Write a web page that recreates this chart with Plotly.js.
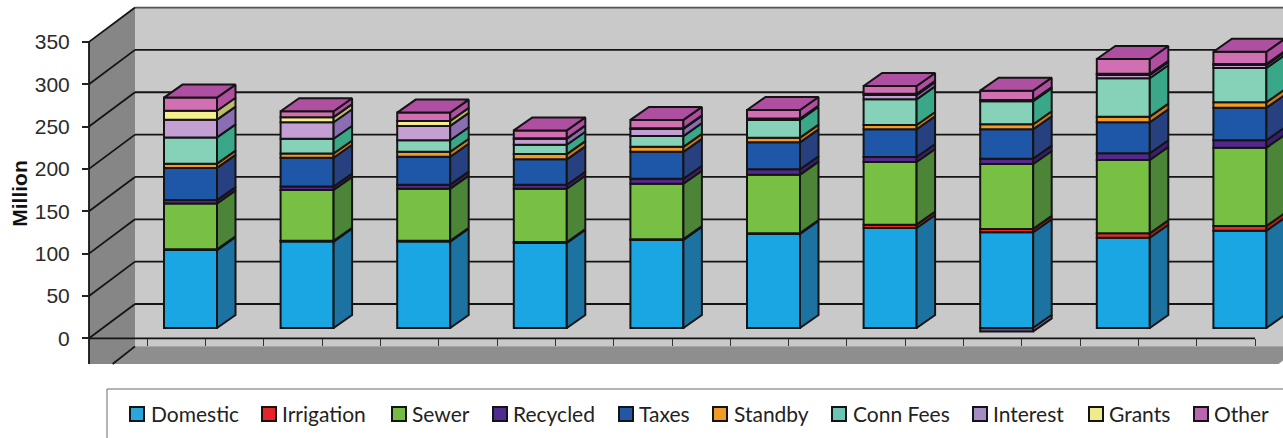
<!DOCTYPE html>
<html>
<head>
<meta charset="utf-8">
<script src="https://cdn.plot.ly/plotly-3.0.1.min.js"></script>
<style>html,body{margin:0;padding:0;background:#fff}#chart{width:1283px;height:438px}</style>
</head>
<body>
<div id="chart"></div>
<script>
// Revenue by source, stacked per year (millions)
const domestic  = [92, 102, 102, 100.4, 103.9, 111, 118, 113, 106.6, 114.9];
const irrigation= [1, 1, 1, 1, 1, 1, 4, 4, 5.2, 5.5];
const sewer     = [54, 60, 61.5, 63, 65.4, 69, 74, 76.6, 86.5, 92.5];
const recycled  = [4, 4, 4.7, 4.7, 5.9, 6.4, 5.9, 6.3, 8, 8.7];
const taxes     = [38, 34, 33, 30, 31.8, 31.8, 32.7, 34.7, 36.6, 38.4];
const standby   = [5, 5, 5.9, 6.2, 5.9, 5.5, 5.1, 5.9, 6.6, 6.5];
const connFees  = [31, 17.5, 13.5, 11, 12.7, 20.9, 30.3, 27.2, 45.3, 40.5];
const interest  = [21, 19.4, 17, 7.1, 8.3, 0.8, 5, -4, 3.9, 3.5];
const grants    = [10.5, 6, 5.9, 0.6, 0.8, 0.8, 1.6, 1.5, 1.5, 1.2];
const other     = [15.5, 7, 9.8, 9.3, 10, 10.2, 9.1, 11, 17.4, 14.5];

const seriesNames  = ['Domestic','Irrigation','Sewer','Recycled','Taxes','Standby','Conn Fees','Interest','Grants','Other'];
const seriesValues = [domestic, irrigation, sewer, recycled, taxes, standby, connFees, interest, grants, other];
const frontColors  = ['#1AA5E3','#EE2A24','#77C043','#55288F','#1E56A8','#F59B21','#86D2B8','#C49FD4','#F4EE8E','#D070B2'];
const sideColors   = ['#1C72A0','#B5201E','#4C8438','#3B1E70','#27407F','#C87A1C','#3AA888','#8B6DB2','#BDBB6E','#B04FA0'];
const legendColors = ['#2AA6DC','#E8232A','#76BC43','#4F2C91','#2456A6','#F09A2A','#6CC4B4','#A48CC4','#EDEB8A','#B866AE'];
const negativeColor = '#6A4A9E';
const topColor = '#AE4FA2';
const yTicks = [0, 50, 100, 150, 200, 250, 300, 350];
const xTicks = [0.5,1,1.5,2,2.5,3,3.5,4,4.5,5,5.5,6,6.5,7,7.5,8,8.5,9,9.5,10];

// Left edge of each legend swatch and of each legend label, in page pixels
const legendSwatchX = [130, 262, 392, 493, 619, 713, 832, 973, 1089, 1194];
const legendTextX   = [150, 281, 411, 512, 638, 733, 852, 992, 1108, 1213];

// Oblique projection constants, in axis units
const W = 1283, H = 438, PLOT_H = 387;
const PX_X = 116.6, PX_Y = 0.847;         // pixels per category / per million
const LEFT = 89, ZERO = 338.3;            // front-left corner of the axes
const wallDx = 46 / PX_X, wallDy = 34.3 / PX_Y;   // depth of the whole box
const barDx = 18.5 / PX_X, barDy = 13 / PX_Y;     // depth of one column
const barLift = 10.3 / PX_Y;              // columns stand behind the axis plane
const barWidth = 53 / PX_X, firstBar = 0.8705;
const axisFloor = -50, cropFloor = -30.3, rightEnd = 10;
const barLine = 2, gridLine = 1.8;

const xRange = [-LEFT / PX_X, (W - LEFT) / PX_X];
const yRange = [(ZERO - PLOT_H) / PX_Y, ZERO / PX_Y];
const paperY = py => (PLOT_H - py) / PLOT_H;

const poly = pts => 'M' + pts.map(p => p[0] + ',' + p[1]).join('L') + 'Z';
const black = '#141414';
const seg = (x0, y0, x1, y1, color, width) => ({
  type: 'line', layer: 'below', xref: 'x', yref: 'y', x0, y0, x1, y1,
  line: {color: color || black, width: width || gridLine}
});
const face = (pts, fill) => ({
  type: 'path', layer: 'below', xref: 'x', yref: 'y', path: poly(pts),
  fillcolor: fill, line: {width: 0}
});

// Back wall, left wall and floor
const floorSlant = wallDx * (cropFloor - axisFloor) / -wallDy;
const shapes = [
  face([[wallDx, axisFloor + wallDy], [rightEnd + wallDx, axisFloor + wallDy],
        [rightEnd + wallDx, 350 + wallDy], [wallDx, 350 + wallDy]], '#C9C9C9'),
  face([[0, cropFloor], [0, 350], [wallDx, 350 + wallDy], [wallDx, axisFloor + wallDy],
        [floorSlant + wallDx, cropFloor]], '#868686'),
  face([[wallDx, axisFloor + wallDy], [rightEnd + wallDx, axisFloor + wallDy],
        [rightEnd + wallDx + floorSlant, cropFloor],
        [floorSlant + wallDx, cropFloor]], '#8E8E8E')
];
yTicks.forEach(v => {
  shapes.push(seg(0, v, wallDx, v + wallDy));
  shapes.push(seg(wallDx, v + wallDy, rightEnd + wallDx, v + wallDy, v === 350 ? '#555' : black));
});
shapes.push(seg(wallDx, axisFloor + wallDy, floorSlant + wallDx, cropFloor));
shapes.push(seg(0, cropFloor, 0, 350));
shapes.push(seg(0, 0, rightEnd, 0));

// Legend frame runs off the right and bottom of the page
shapes.push({type: 'rect', xref: 'paper', yref: 'paper', layer: 'below',
  x0: 107 / W, x1: 1.02, y0: -0.2, y1: paperY(389),
  fillcolor: 'rgba(0,0,0,0)', line: {color: '#6a6a6a', width: 1}});

// Legend swatches and labels
const annotations = [];
seriesNames.forEach((name, s) => {
  shapes.push({type: 'rect', xref: 'paper', yref: 'paper',
    x0: legendSwatchX[s] / W, x1: (legendSwatchX[s] + 14) / W,
    y0: paperY(421), y1: paperY(407),
    fillcolor: legendColors[s], line: {color: black, width: 2}});
  annotations.push({xref: 'paper', yref: 'paper', x: legendTextX[s] / W, y: paperY(414),
    xanchor: 'left', yanchor: 'middle', showarrow: false, text: name, borderpad: 0,
    font: {family: 'Lato, sans-serif', size: 21, color: '#222'}});
});

// Stack every year, negatives hanging below the zero line
const positions = domestic.map((_, i) => firstBar + i);
const posTop = domestic.map(() => 0);
const negTop = domestic.map(() => 0);
const bars = [], sides = [];
seriesValues.forEach((vals, s) => {
  const bases = [], heights = [], sx = [], sy = [];
  vals.forEach((v, i) => {
    let lo, hi;
    if (v >= 0) { lo = posTop[i]; hi = lo + v; posTop[i] = hi; }
    else { hi = negTop[i]; lo = hi + v; negTop[i] = lo; }
    bases.push(lo + barLift);
    heights.push(hi - lo);
    const xr = positions[i] + barWidth / 2;
    sx.push(xr, xr + barDx, xr + barDx, xr, xr, null);
    sy.push(lo + barLift, lo + barLift + barDy, hi + barLift + barDy, hi + barLift, lo + barLift, null);
  });
  bars.push({type: 'bar', name: seriesNames[s], x: positions, y: heights, base: bases,
    width: barWidth,
    marker: {color: vals.map(v => v < 0 ? negativeColor : frontColors[s]), line: {color: black, width: barLine}},
    hoverinfo: 'name'});
  sides.push({type: 'scatter', mode: 'lines', x: sx, y: sy, fill: 'toself',
    fillcolor: sideColors[s], line: {color: black, width: barLine},
    showlegend: false, hoverinfo: 'skip'});
});

// Caps on top of each column
const capX = [], capY = [];
positions.forEach((x, i) => {
  const y = posTop[i] + barLift, l = x - barWidth / 2, r = x + barWidth / 2;
  capX.push(l, r, r + barDx, l + barDx, l, null);
  capY.push(y, y, y + barDy, y + barDy, y, null);
});
const caps = {type: 'scatter', mode: 'lines', x: capX, y: capY, fill: 'toself',
  fillcolor: topColor, line: {color: black, width: barLine}, showlegend: false, hoverinfo: 'skip'};

const layout = {
  width: W, height: H,
  margin: {l: 0, r: 0, t: 0, b: H - PLOT_H, autoexpand: false},
  paper_bgcolor: '#fff', plot_bgcolor: '#fff',
  barmode: 'overlay',
  showlegend: false,
  xaxis: {range: xRange, anchor: 'free', position: (PLOT_H - ZERO) / PLOT_H,
    showgrid: false, zeroline: false, showline: false,
    tickmode: 'array', tickvals: xTicks, ticks: 'outside', ticklen: 7, tickwidth: 1, tickcolor: '#333',
    showticklabels: false},
  yaxis: {range: yRange, anchor: 'free', position: LEFT / W,
    showgrid: false, zeroline: false, showline: false,
    tickmode: 'array', tickvals: yTicks, ticks: 'outside', ticklen: 7, tickwidth: 1.5, tickcolor: '#222',
    ticklabelstandoff: 8,
    tickfont: {family: '"Liberation Sans", Arial, sans-serif', size: 21, color: '#2a2a2a'},
    title: {text: 'Million', standoff: 0,
      font: {family: '"Liberation Sans", Arial, sans-serif', size: 21, color: '#111', weight: 'bold'}}},
  shapes,
  annotations
};

Plotly.newPlot('chart', bars.concat(sides, [caps]), layout, {displayModeBar: false});
</script>
</body>
</html>
